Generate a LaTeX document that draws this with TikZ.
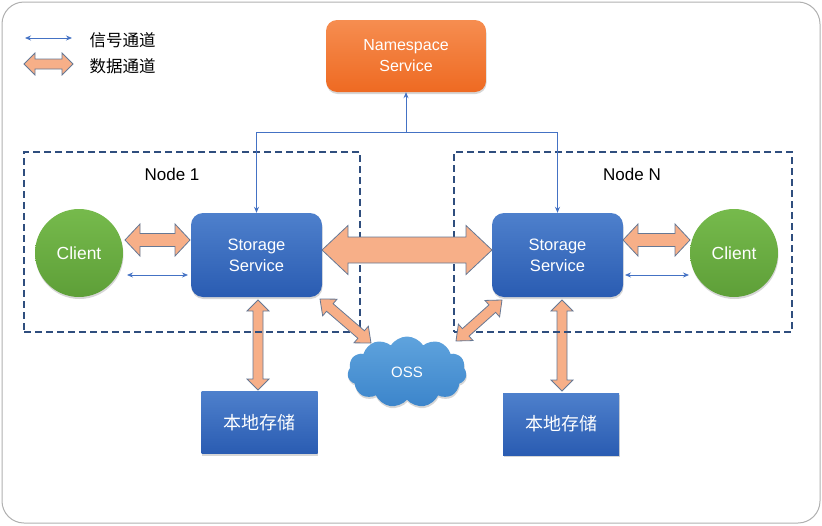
\documentclass[tikz,border=0pt]{standalone}
\usepackage{fontspec}
\setmainfont{Liberation Sans}
\newfontfamily\cjk{Noto Sans CJK SC}
\usetikzlibrary{calc,arrows.meta,shapes.symbols,shadows}
\definecolor{frameC}{HTML}{B0B0B0}
\definecolor{sigC}{HTML}{4472C4}
\definecolor{dashC}{HTML}{2F4E7E}
\definecolor{arrFill}{HTML}{F7AF88}
\definecolor{arrLine}{HTML}{667894}
\definecolor{orTop}{HTML}{F68D50}
\definecolor{orBot}{HTML}{EE6A22}
\definecolor{blTop}{HTML}{4E80CC}
\definecolor{blBot}{HTML}{2A5CB2}
\definecolor{grTop}{HTML}{76BA4C}
\definecolor{grBot}{HTML}{5E9F38}
\definecolor{clTop}{HTML}{5FA3DD}
\definecolor{clBot}{HTML}{3C85CB}
\newcommand\blockarrow[5]{%
  \coordinate (bahA) at ($(#1)!#5!(#2)$);
  \coordinate (bahB) at ($(#2)!#5!(#1)$);
  \draw[dataarrow] (#1) -- ($(bahA)!#4!90:(#2)$) -- ($(bahA)!#3!90:(#2)$)
    -- ($(bahB)!#3!-90:(#1)$) -- ($(bahB)!#4!-90:(#1)$) -- (#2)
    -- ($(bahB)!#4!90:(#1)$) -- ($(bahB)!#3!90:(#1)$)
    -- ($(bahA)!#3!-90:(#2)$) -- ($(bahA)!#4!-90:(#2)$) -- cycle;}
\tikzset{
  frame/.style={draw=frameC, line width=1pt, rounded corners=22pt},
  sig/.style={draw=sigC, line width=0.8pt},
  sigtip/.style={sig, {Stealth[length=6pt,width=5pt]}-{Stealth[length=6pt,width=5pt]}},
  sigend/.style={sig, -{Stealth[length=6pt,width=5pt]}},
  dataarrow/.style={fill=arrFill, draw=arrLine, line width=0.8pt, line join=miter},
  dashbox/.style={draw=dashC, line width=1.6pt, dash pattern=on 7pt off 4pt},
  softshadow/.style={drop shadow={shadow xshift=0.5pt, shadow yshift=-2pt, opacity=0.16, fill=black}},
  nsbox/.style={rectangle, rounded corners=11pt, top color=orTop, bottom color=orBot, draw=none,
    minimum width=160pt, minimum height=72pt, text=white, align=center, softshadow,
    font=\fontsize{16}{21}\selectfont},
  stbox/.style={rectangle, rounded corners=12pt, top color=blTop, bottom color=blBot, draw=none,
    minimum width=131pt, minimum height=84pt, text=white, align=center, softshadow,
    font=\fontsize{16.5}{21}\selectfont},
  lcbox/.style={rectangle, top color=blTop, bottom color=blBot, draw=none,
    minimum width=116pt, minimum height=62pt, text=white, softshadow,
    font=\cjk\fontsize{18}{22}\selectfont},
  clientnode/.style={circle, inner sep=0pt, minimum size=88pt, top color=grTop, bottom color=grBot,
    draw=none, text=white, softshadow, font=\fontsize{17.5}{20}\selectfont},
  ossnode/.style={cloud, cloud puffs=11, cloud puff arc=115, aspect=1.7, inner sep=0pt,
    minimum width=119pt, minimum height=71pt, top color=clTop, bottom color=clBot, draw=none,
    text=white, softshadow, font=\fontsize{15}{18}\selectfont},
  label/.style={text=black, font=\fontsize{17}{20}\selectfont},
  legendtext/.style={text=black, anchor=west, font=\cjk\fontsize{16.5}{20}\selectfont},
}
\begin{document}
\begin{tikzpicture}[x=1pt,y=-1pt]
\useasboundingbox (0,0) rectangle (822,525);
\draw[frame] (2,2) rectangle (820,523);

% legend
\coordinate (lgA) at (25,38);
\coordinate (lgB) at (72,38);
\coordinate (lgC) at (24,64);
\coordinate (lgD) at (73,64);
\draw[sigtip] (lgA) -- (lgB);
\blockarrow{lgC}{lgD}{5pt}{11pt}{11pt}
\node[legendtext] (lg1) at (86,40) {信号通道};
\node[legendtext] (lg2) at (86,66) {数据通道};

% nodes
\node[nsbox] (ns) at (406,56) {Namespace\\Service};
\node[stbox] (s1) at (256.5,255) {Storage\\Service};
\node[stbox] (sN) at (557.5,255) {Storage\\Service};
\node[clientnode] (c1) at (79,253) {Client};
\node[clientnode] (cN) at (734,253) {Client};
\node[lcbox] (l1) at (259.5,422.5) {本地存储};
\node[lcbox] (lN) at (561,424) {本地存储};
\node[ossnode] (oss) at (407,372) {OSS};

% vertical data arrows (under dashed boxes)
\coordinate (v1a) at (258,300);
\coordinate (v1b) at (258,390);
\coordinate (vNa) at (562,300);
\coordinate (vNb) at (562,391);
\blockarrow{v1a}{v1b}{5pt}{11pt}{11pt}
\blockarrow{vNa}{vNb}{5pt}{11pt}{11pt}

% dashed node groups
\node[dashbox, minimum width=336pt, minimum height=180pt, inner sep=0pt] (g1) at (192,242) {};
\node[dashbox, minimum width=338pt, minimum height=180pt, inner sep=0pt] (gN) at (623,242) {};
\node[label] (g1t) at (172,174) {Node 1};
\node[label] (gNt) at (632,174) {Node N};

% signal lines from namespace
\path (ns.south) ++(0,40) coordinate (jm);
\draw[sig] (s1.north |- jm) -- (sN.north |- jm);
\draw[sigend] (jm) -- (ns.south);
\draw[sigend] (s1.north |- jm) -- (s1.north);
\draw[sigend] (sN.north |- jm) -- (sN.north);

% client <-> storage
\coordinate (a1) at (125,240);
\coordinate (a2) at (190,240);
\coordinate (a3) at (623,240);
\coordinate (a4) at (690,240);
\blockarrow{a1}{a2}{6.5pt}{16pt}{15pt}
\blockarrow{a3}{a4}{6.5pt}{16pt}{15pt}
\coordinate (t1) at (127,275);
\coordinate (t2) at (188,275);
\coordinate (t3) at (625,275);
\coordinate (t4) at (689,275);
\draw[sigtip] (t1) -- (t2);
\draw[sigtip] (t3) -- (t4);

% storage <-> storage
\coordinate (m1) at (322,250);
\coordinate (m2) at (492,250);
\blockarrow{m1}{m2}{13pt}{24.5pt}{26pt}

% storage <-> OSS
\coordinate (d1) at (320,299);
\coordinate (d2) at (371,343);
\coordinate (d3) at (502,300);
\coordinate (d4) at (456,341);
\blockarrow{d1}{d2}{5pt}{11pt}{13pt}
\blockarrow{d3}{d4}{5pt}{11pt}{13pt}
\end{tikzpicture}
\end{document}
